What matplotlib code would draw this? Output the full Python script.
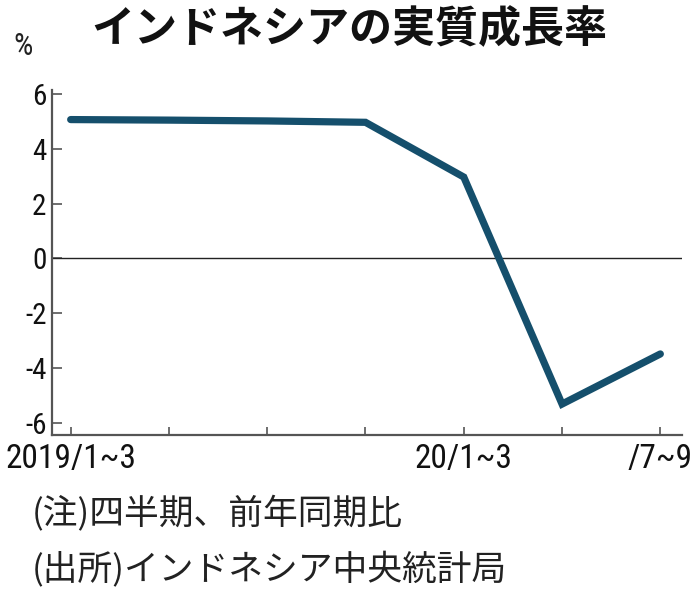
import matplotlib
matplotlib.use("Agg")
import matplotlib.pyplot as plt

quarters = ["2019/1~3", "4~6", "7~9", "10~12", "20/1~3", "4~6", "7~9"]
growth = [5.07, 5.05, 5.02, 4.97, 2.97, -5.32, -3.49]
x_tick_labels = ["2019/1~3", "", "", "", "20/1~3", "", "/7~9"]
y_ticks = [-6, -4, -2, 0, 2, 4, 6]

title = "インドネシアの実質成長率"
unit = "%"
note1 = "(注)四半期、前年同期比"
note2 = "(出所)インドネシア中央統計局"

cjk = ["Noto Sans CJK JP", "DejaVu Sans"]
num = ["Roboto Condensed", "Fira Sans Condensed", "DejaVu Sans"]

fig = plt.figure(figsize=(6.98, 6.0), dpi=100)
ax = fig.add_axes([0.0745, 0.275, 0.977 - 0.0745, 0.85 - 0.275])

xs = list(range(len(growth)))
ax.plot(xs, growth, color="#154f6c", lw=5.2, solid_joinstyle="miter",
        solid_capstyle="round", zorder=3)
ax.axhline(0, color="#222222", lw=1.0, zorder=2)

ax.set_xlim(-0.19, 6.22)
ax.set_ylim(-6.45, 6.15)
ax.set_xticks(xs)
ax.set_xticklabels(x_tick_labels, family=num, fontsize=24, fontstretch="condensed")
ax.set_yticks(y_ticks)
ax.set_yticklabels([str(v) for v in y_ticks], family=num, fontsize=21, fontstretch="condensed")

for s in ["top", "right"]:
    ax.spines[s].set_visible(False)
for s in ["left", "bottom"]:
    ax.spines[s].set_color("#555555")
    ax.spines[s].set_linewidth(1.6)

ax.tick_params(axis="x", direction="in", length=6, width=1.2, color="#555555",
               pad=6, labelcolor="#111111")
ax.tick_params(axis="y", direction="in", length=7, width=1.2, color="#555555",
               pad=4, labelcolor="#111111")

fig.text(0.501, 0.952, title, family=cjk, fontsize=31, fontweight="bold",
         ha="center", va="center", color="#111111")
fig.text(0.033, 0.923, unit, family=num, fontsize=22, ha="center", va="center",
         color="#222222")
fig.text(0.045, 0.142, note1, family=cjk, fontsize=25, ha="left", va="center",
         color="#222222")
fig.text(0.045, 0.050, note2, family=cjk, fontsize=25, ha="left", va="center",
         color="#222222")

fig.savefig("out.png", dpi=100, facecolor="white")
